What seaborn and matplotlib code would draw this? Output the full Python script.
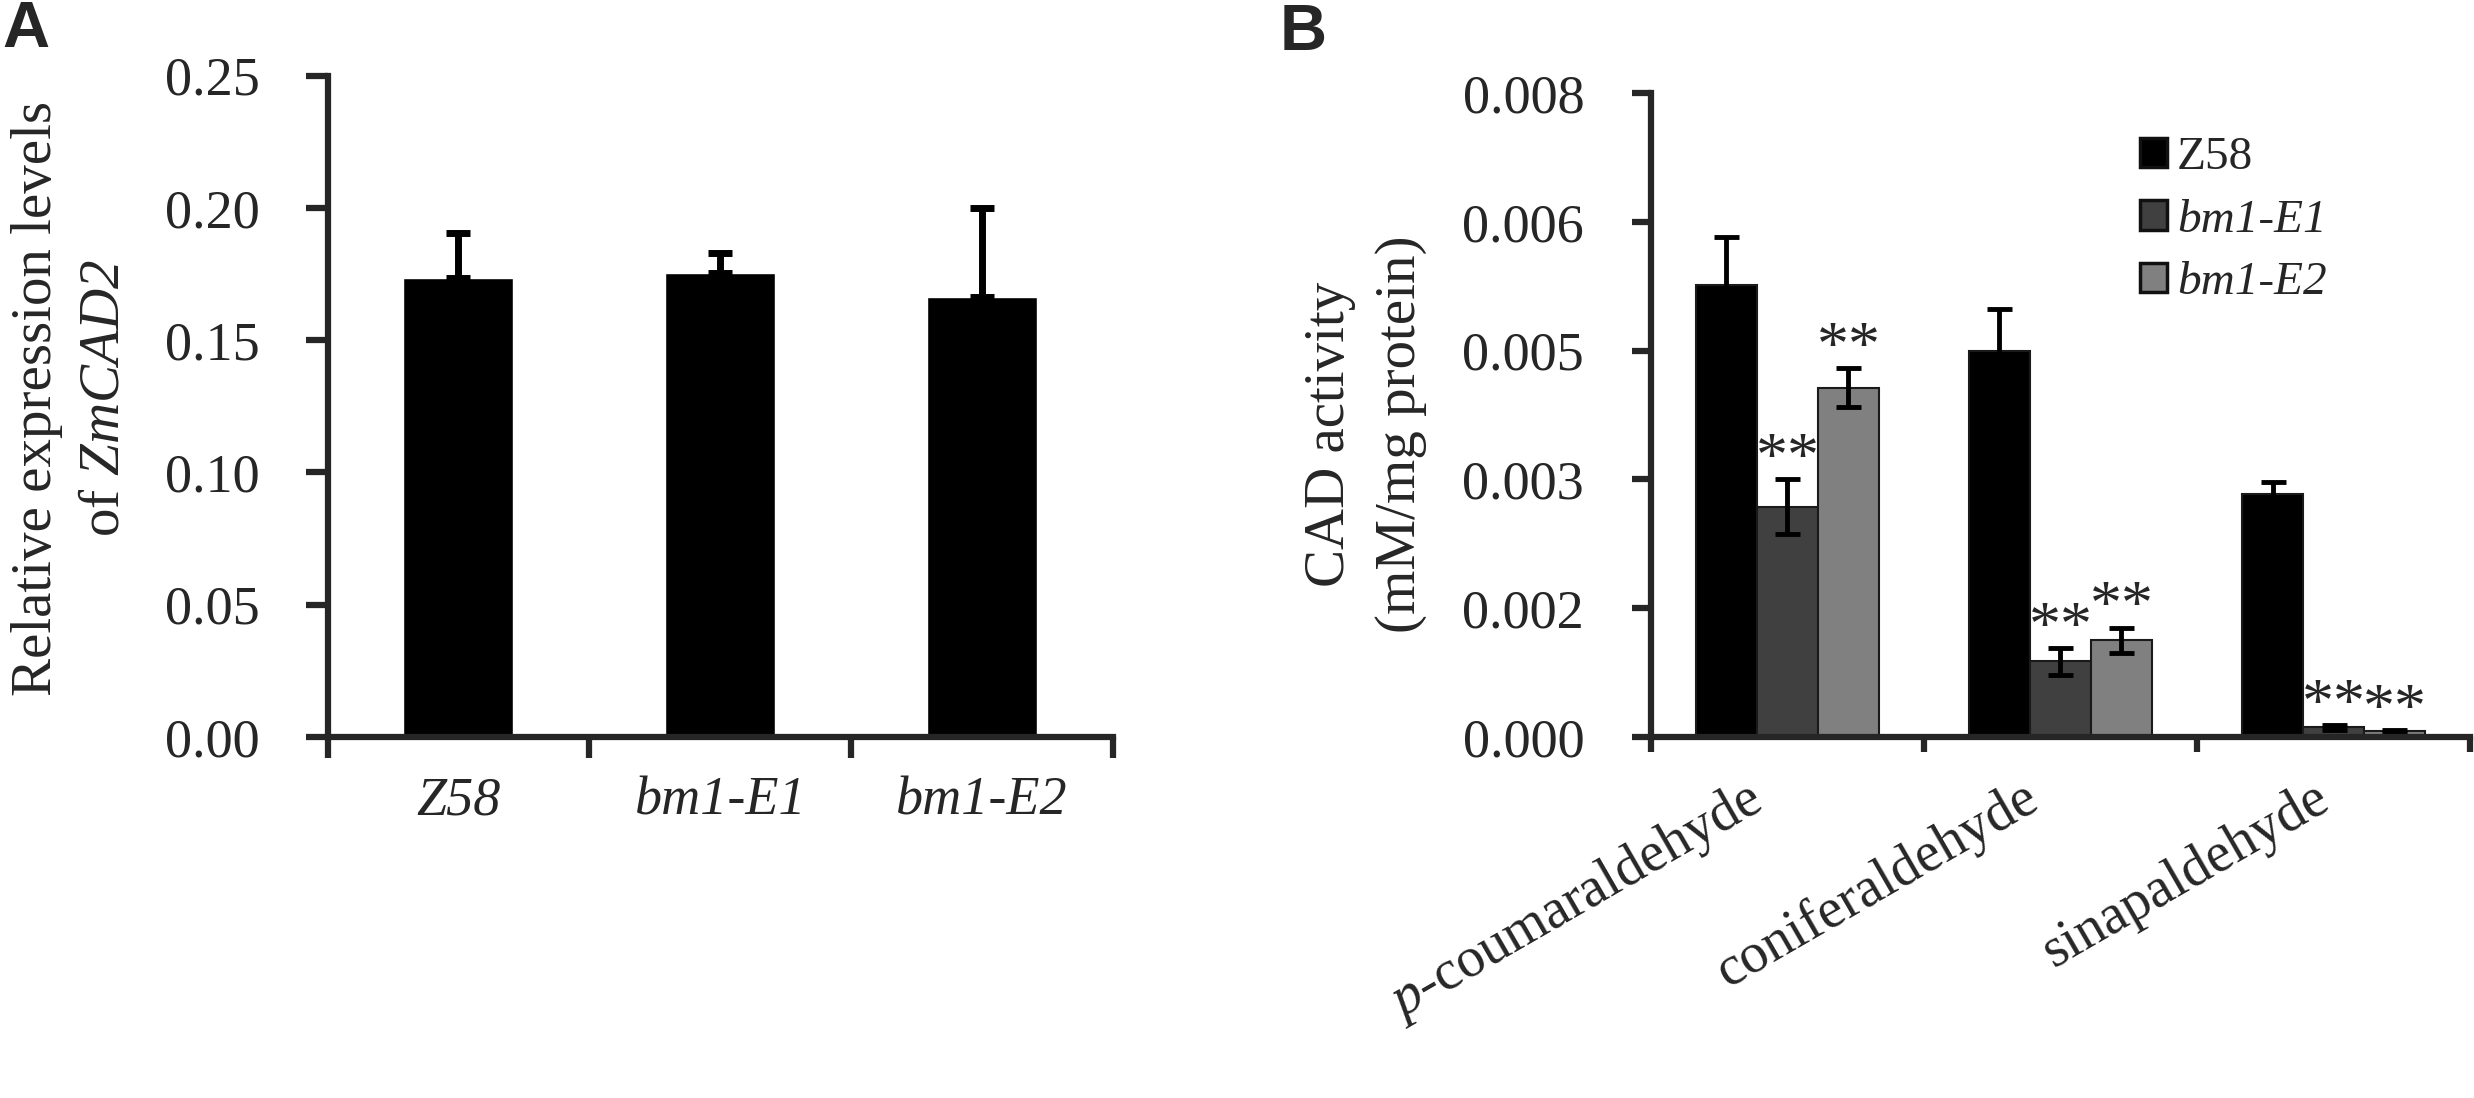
import numpy as np
import pandas as pd
import matplotlib
matplotlib.use('Agg')
import matplotlib.pyplot as plt
import matplotlib.transforms as mtransforms
from matplotlib.patches import Patch
import seaborn as sns

# panel A: relative expression of ZmCAD2
lines_a = ['Z58', 'bm1-E1', 'bm1-E2']
expr_mean = [0.1733, 0.1752, 0.1662]
expr_err = [0.0171, 0.0077, 0.0339]

# panel B: CAD activity per substrate
substrates = ['p-coumaraldehyde', 'coniferaldehyde', 'sinapaldehyde']
substrate_labels = ['$\\mathbf{p}$-coumaraldehyde', 'coniferaldehyde', 'sinapaldehyde']
genotypes = ['Z58', 'bm1-E1', 'bm1-E2']
cad_z58 = [0.00562, 0.00479, 0.00302]
cad_e1 = [0.00286, 0.00094, 0.00012]
cad_e2 = [0.00434, 0.00120, 0.00007]
err_z58 = [0.00059, 0.00053, 0.00015]
err_e1 = [0.00034, 0.00017, 0.00003]
err_e2 = [0.00024, 0.00016, 0.00002]
stars_e1 = ['**', '**', '**']
stars_e2 = ['**', '**', '**']

bar_colors = ['#000000', '#404040', '#808080']

sns.set_theme(style='ticks')
plt.rcParams['font.family'] = ['Liberation Serif', 'DejaVu Serif']
# \mathbf is used as "italic serif" so digits stay italic too
plt.rcParams['mathtext.fontset'] = 'custom'
plt.rcParams['mathtext.rm'] = 'Liberation Serif'
plt.rcParams['mathtext.it'] = 'Liberation Serif:italic'
plt.rcParams['mathtext.bf'] = 'Liberation Serif:italic'
plt.rcParams['axes.linewidth'] = 4.5

FS = 39
LAB = 41

fig = plt.figure(figsize=(24.74, 10.98), dpi=100)
ax_a = fig.add_axes([0.1324, 0.3288, 0.3175, 0.6024])
ax_b = fig.add_axes([0.6673, 0.3288, 0.3311, 0.5865])

# ---------- panel A ----------
df_a = pd.DataFrame({'line': lines_a, 'expr': expr_mean})
sns.barplot(data=df_a, x='line', y='expr', color='black', saturation=1,
            width=0.42, errorbar=None, ax=ax_a)
ax_a.errorbar(np.arange(len(lines_a)), expr_mean,
              yerr=[np.zeros(len(expr_err)), expr_err], fmt='none',
              ecolor='black', elinewidth=5, capsize=8.3, capthick=5)
ax_a.set_ylim(0, 0.25)
ax_a.set_xlim(-0.5, 2.5)
ax_a.set_yticks(np.arange(0, 0.251, 0.05))
ax_a.set_yticklabels(['%.2f' % v for v in np.arange(0, 0.251, 0.05)], fontsize=FS)
ax_a.set_xticks(np.arange(len(lines_a)))
ax_a.set_xticklabels(lines_a, fontsize=FS)
for t in ax_a.get_xticklabels():
    t.set_fontstyle('italic')
ax_a.set_xticks([-0.5, 0.5, 1.5, 2.5], minor=True)
ax_a.tick_params(axis='x', which='major', length=0, pad=28)
ax_a.tick_params(axis='x', which='minor', length=15, width=4.5, direction='out')
ax_a.tick_params(axis='y', length=16, width=4.5, direction='out', pad=33)
ax_a.set_xlabel('')
ax_a.set_ylabel('Relative expression levels\nof $\\mathbf{ZmCAD2}$', fontsize=LAB,
                linespacing=1.41, va='center')
ax_a.yaxis.set_label_coords(-0.327, 0.512)
sns.despine(ax=ax_a)

# ---------- panel B ----------
df_b = pd.DataFrame({
    'substrate': substrates * 3,
    'genotype': np.repeat(genotypes, 3),
    'activity': cad_z58 + cad_e1 + cad_e2,
})
sns.barplot(data=df_b, x='substrate', y='activity', hue='genotype',
            order=substrates, hue_order=genotypes, palette=bar_colors,
            saturation=1, width=0.67, errorbar=None, edgecolor='#1a1a1a',
            linewidth=1.5, ax=ax_b)
errs = [err_z58, err_e1, err_e2]
vals = [cad_z58, cad_e1, cad_e2]
stars = [None, stars_e1, stars_e2]
bar_groups = list(ax_b.containers)
for k, cont in enumerate(bar_groups):
    xs = [p.get_x() + p.get_width() / 2 for p in cont.patches]
    ax_b.errorbar(xs, vals[k], yerr=errs[k], fmt='none', ecolor='black',
                  elinewidth=3.5, capsize=9, capthick=3.5)
    if stars[k] is not None:
        for x, v, e, s in zip(xs, vals[k], errs[k], stars[k]):
            ax_b.annotate(s, xy=(x, v + e), xytext=(0, 13), textcoords='offset points',
                          ha='center', va='center', fontsize=46)

ax_b.set_ylim(0, 0.008)
ax_b.set_xlim(-0.5, 2.5)
yt = np.arange(0, 0.00801, 0.0016)
ax_b.set_yticks(yt)
ax_b.set_yticklabels(['%.3f' % v for v in yt], fontsize=FS)
ax_b.set_xticks(np.arange(len(substrates)))
ax_b.set_xticklabels(substrate_labels, fontsize=40.5, rotation=30, ha='right',
                     va='top', rotation_mode='anchor')
ax_b.set_xticks([-0.5, 0.5, 1.5, 2.5], minor=True)
ax_b.tick_params(axis='x', which='major', length=3, width=1.5, direction='in', pad=25)
ax_b.tick_params(axis='x', which='minor', length=11, width=4.5, direction='out')
ax_b.tick_params(axis='y', length=14, width=4.5, direction='out', pad=34)
# nudge the slanted labels left of the group centre (inches)
for t, dx in zip(ax_b.get_xticklabels(), [-0.43, -0.39, -0.21]):
    t.set_transform(t.get_transform() +
                    mtransforms.ScaledTranslation(dx, 0, fig.dpi_scale_trans))
ax_b.set_xlabel('')
ax_b.set_ylabel('CAD activity\n(mM/mg protein)', fontsize=LAB, linespacing=1.47,
                va='center')
ax_b.yaxis.set_label_coords(-0.349, 0.47)
sns.despine(ax=ax_b)

handles = [Patch(facecolor=c, edgecolor='#111111', linewidth=2.5) for c in bar_colors]
leg = ax_b.legend(handles, genotypes, loc='upper left', bbox_to_anchor=(0.597, 0.932),
                  frameon=False, fontsize=34, handlelength=0.58, handleheight=0.58,
                  handletextpad=0.2, labelspacing=0.42, borderaxespad=0, borderpad=0)
for t in leg.get_texts()[1:]:
    t.set_fontstyle('italic')

fig.text(0.001, 1.0, 'A', fontsize=47, fontweight='bold', family='Liberation Sans',
         va='top', ha='left')
fig.text(0.5174, 0.997, 'B', fontsize=47, fontweight='bold', family='Liberation Sans',
         va='top', ha='left')

fig.savefig('out.png', dpi=100)
